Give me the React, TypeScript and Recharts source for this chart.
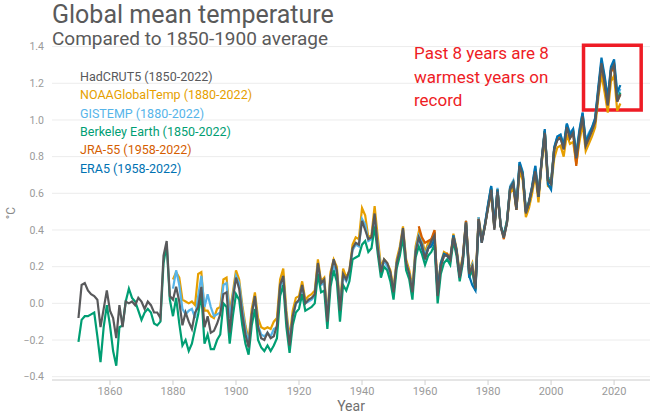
import { LineChart, Line, XAxis, YAxis, CartesianGrid, ReferenceArea } from "recharts";

// annual anomalies vs 1850-1900, °C
const hadcrut5 = [
  -0.08, 0.10, 0.11, 0.07, 0.05, 0.04, 0.02, -0.13, -0.03, 0.07,
  -0.04, -0.08, -0.19, -0.01, -0.13, 0.01, 0.00, 0.01, -0.01, 0.03,
  0.01, -0.03, 0.01, -0.01, -0.05, -0.05, -0.08, 0.26, 0.34, 0.04,
  0.02, 0.09, 0.01, -0.12, -0.05, -0.10, -0.14, -0.05, -0.02, 0.09,
  -0.13, -0.07, -0.16, -0.15, -0.11, -0.06, 0.05, 0.06, -0.16, 0.02,
  0.14, 0.08, -0.06, -0.17, -0.24, -0.06, 0.04, -0.13, -0.19, -0.20,
  -0.16, -0.19, -0.18, -0.12, 0.10, 0.15, -0.08, -0.23, -0.07, 0.00,
  0.02, 0.10, 0.00, 0.02, 0.03, 0.05, 0.22, 0.11, 0.13, -0.10,
  0.15, 0.24, 0.18, -0.04, 0.16, 0.13, 0.18, 0.30, 0.33, 0.32,
  0.45, 0.40, 0.35, 0.36, 0.49, 0.30, 0.17, 0.24, 0.22, 0.17,
  0.06, 0.22, 0.29, 0.41, 0.22, 0.16, 0.06, 0.28, 0.36, 0.32,
  0.24, 0.30, 0.34, 0.37, 0.04, 0.20, 0.26, 0.26, 0.24, 0.36,
  0.28, 0.14, 0.24, 0.44, 0.16, 0.20, 0.08, 0.46, 0.33, 0.42,
  0.52, 0.62, 0.40, 0.61, 0.42, 0.36, 0.44, 0.62, 0.65, 0.51,
  0.75, 0.70, 0.49, 0.55, 0.63, 0.72, 0.58, 0.77, 0.93, 0.67,
  0.65, 0.84, 0.89, 0.90, 0.84, 0.96, 0.90, 0.93, 0.79, 0.92,
  1.02, 0.86, 0.90, 0.94, 0.99, 1.15, 1.31, 1.20, 1.08, 1.27,
  1.30, 1.10, 1.14,
];

const noaaGlobalTemp = [
  0.13, 0.17, 0.14, 0.02, 0.01, 0.00, 0.01, -0.01, 0.16, 0.17,
  -0.04, -0.04, -0.07, -0.08, -0.03, -0.02, 0.13, 0.14, -0.05, 0.06,
  0.18, 0.13, -0.01, -0.12, -0.20, -0.03, 0.06, -0.08, -0.13, -0.14,
  -0.13, -0.14, -0.10, -0.08, 0.13, 0.19, -0.04, -0.19, -0.04, 0.03,
  0.04, 0.12, 0.02, 0.04, 0.05, 0.07, 0.24, 0.12, 0.14, -0.06,
  0.17, 0.24, 0.20, 0.00, 0.19, 0.14, 0.18, 0.32, 0.36, 0.35,
  0.52, 0.48, 0.36, 0.37, 0.53, 0.36, 0.20, 0.24, 0.22, 0.18,
  0.08, 0.24, 0.31, 0.42, 0.24, 0.18, 0.09, 0.31, 0.39, 0.35,
  0.28, 0.33, 0.35, 0.38, 0.08, 0.22, 0.28, 0.27, 0.25, 0.38,
  0.30, 0.17, 0.26, 0.45, 0.18, 0.22, 0.11, 0.47, 0.35, 0.43,
  0.52, 0.60, 0.42, 0.60, 0.42, 0.37, 0.44, 0.60, 0.63, 0.51,
  0.72, 0.67, 0.47, 0.52, 0.60, 0.70, 0.55, 0.76, 0.90, 0.64,
  0.63, 0.79, 0.85, 0.86, 0.80, 0.92, 0.87, 0.88, 0.76, 0.88,
  0.98, 0.83, 0.87, 0.91, 0.96, 1.12, 1.25, 1.15, 1.04, 1.21,
  1.24, 1.05, 1.09,
];

const gistemp = [
  0.08, 0.18, 0.10, -0.03, -0.06, -0.04, -0.03, -0.08, 0.04, 0.15,
  -0.02, 0.05, -0.02, -0.07, -0.06, -0.05, 0.10, 0.11, -0.08, 0.04,
  0.15, 0.11, -0.03, -0.14, -0.22, -0.06, 0.03, -0.12, -0.17, -0.18,
  -0.16, -0.18, -0.14, -0.13, 0.08, 0.14, -0.07, -0.20, -0.08, 0.00,
  0.01, 0.09, 0.00, 0.01, 0.02, 0.04, 0.20, 0.10, 0.11, -0.07,
  0.14, 0.20, 0.17, -0.02, 0.15, 0.12, 0.16, 0.29, 0.32, 0.31,
  0.46, 0.43, 0.34, 0.35, 0.47, 0.32, 0.18, 0.23, 0.20, 0.16,
  0.06, 0.22, 0.29, 0.40, 0.22, 0.16, 0.06, 0.29, 0.37, 0.33,
  0.26, 0.31, 0.32, 0.36, 0.06, 0.20, 0.26, 0.26, 0.23, 0.37,
  0.29, 0.15, 0.25, 0.45, 0.17, 0.21, 0.09, 0.47, 0.34, 0.43,
  0.54, 0.64, 0.42, 0.63, 0.43, 0.37, 0.45, 0.64, 0.67, 0.53,
  0.77, 0.72, 0.51, 0.56, 0.64, 0.75, 0.60, 0.78, 0.94, 0.69,
  0.67, 0.85, 0.91, 0.92, 0.86, 0.98, 0.93, 0.95, 0.82, 0.95,
  1.04, 0.89, 0.93, 0.96, 1.01, 1.17, 1.32, 1.23, 1.11, 1.28,
  1.31, 1.13, 1.17,
];

const berkeleyEarth = [
  -0.21, -0.09, -0.07, -0.07, -0.06, -0.05, -0.18, -0.32, -0.13, -0.01,
  -0.12, -0.26, -0.34, -0.13, -0.12, 0.01, 0.08, 0.03, 0.01, -0.04,
  -0.09, -0.05, -0.03, -0.05, -0.11, -0.12, -0.10, 0.22, 0.32, 0.02,
  -0.07, 0.03, -0.11, -0.23, -0.20, -0.26, -0.22, -0.14, -0.06, 0.05,
  -0.22, -0.17, -0.25, -0.25, -0.20, -0.17, 0.00, -0.02, -0.22, -0.07,
  0.05, 0.02, -0.12, -0.22, -0.28, -0.12, -0.03, -0.20, -0.24, -0.26,
  -0.23, -0.26, -0.23, -0.19, 0.04, 0.10, -0.13, -0.27, -0.12, -0.05,
  -0.03, 0.05, -0.04, -0.03, -0.02, 0.00, 0.16, 0.06, 0.07, -0.14,
  0.09, 0.18, 0.12, -0.10, 0.10, 0.07, 0.12, 0.24, 0.25, 0.26,
  0.32, 0.34, 0.28, 0.30, 0.42, 0.27, 0.14, 0.20, 0.18, 0.12,
  0.02, 0.19, 0.26, 0.36, 0.18, 0.13, 0.02, 0.25, 0.31, 0.27,
  0.21, 0.26, 0.28, 0.32, 0.00, 0.16, 0.22, 0.24, 0.21, 0.34,
  0.26, 0.12, 0.22, 0.43, 0.14, 0.18, 0.07, 0.45, 0.34, 0.42,
  0.53, 0.63, 0.41, 0.62, 0.42, 0.37, 0.45, 0.63, 0.66, 0.52,
  0.76, 0.71, 0.50, 0.55, 0.63, 0.73, 0.59, 0.77, 0.94, 0.68,
  0.66, 0.84, 0.90, 0.91, 0.85, 0.97, 0.91, 0.94, 0.80, 0.93,
  1.03, 0.87, 0.91, 0.95, 1.00, 1.16, 1.31, 1.21, 1.09, 1.27,
  1.30, 1.11, 1.15,
];

const jra55 = [
  0.42, 0.36,
  0.33, 0.34, 0.35, 0.40, 0.07, 0.21, 0.26, 0.27, 0.24, 0.37,
  0.29, 0.15, 0.25, 0.45, 0.17, 0.20, 0.09, 0.46, 0.34, 0.42,
  0.53, 0.62, 0.41, 0.62, 0.42, 0.35, 0.44, 0.63, 0.66, 0.51,
  0.75, 0.70, 0.50, 0.55, 0.63, 0.73, 0.58, 0.78, 0.94, 0.67,
  0.65, 0.84, 0.90, 0.91, 0.84, 0.96, 0.90, 0.93, 0.75, 0.92,
  1.02, 0.86, 0.90, 0.95, 0.99, 1.15, 1.30, 1.20, 1.08, 1.26,
  1.29, 1.10, 1.14,
];

const era5 = [
  0.36, 0.30,
  0.25, 0.30, 0.31, 0.35, 0.06, 0.22, 0.27, 0.26, 0.24, 0.37,
  0.29, 0.14, 0.24, 0.44, 0.15, 0.10, 0.07, 0.45, 0.33, 0.43,
  0.54, 0.64, 0.42, 0.62, 0.42, 0.36, 0.44, 0.63, 0.66, 0.52,
  0.77, 0.71, 0.50, 0.55, 0.64, 0.75, 0.58, 0.78, 0.95, 0.65,
  0.62, 0.85, 0.91, 0.92, 0.86, 0.98, 0.92, 0.95, 0.80, 0.94,
  1.04, 0.88, 0.92, 0.96, 1.01, 1.18, 1.34, 1.24, 1.12, 1.29,
  1.33, 1.15, 1.19,
];

const FIRST_YEAR = 1850;
const LAST_YEAR = 2022;
const xTicks = [1860, 1880, 1900, 1920, 1940, 1960, 1980, 2000, 2020];
const yTicks = [-0.4, -0.2, 0, 0.2, 0.4, 0.6, 0.8, 1.0, 1.2, 1.4];
const noteLines = ["Past 8 years are 8", "warmest years on", "record"];

// legend order
const series = [
  { key: "hadcrut5", label: "HadCRUT5 (1850-2022)", color: "#58595b", start: 1850, values: hadcrut5 },
  { key: "noaa", label: "NOAAGlobalTemp (1880-2022)", color: "#e69f00", start: 1880, values: noaaGlobalTemp },
  { key: "gistemp", label: "GISTEMP (1880-2022)", color: "#56b4e9", start: 1880, values: gistemp },
  { key: "berkeley", label: "Berkeley Earth (1850-2022)", color: "#009e73", start: 1850, values: berkeleyEarth },
  { key: "jra55", label: "JRA-55 (1958-2022)", color: "#d55e00", start: 1958, values: jra55 },
  { key: "era5", label: "ERA5 (1958-2022)", color: "#0072b2", start: 1958, values: era5 },
];
// grey drawn last so it sits on top
const drawOrder = ["noaa", "gistemp", "berkeley", "jra55", "era5", "hadcrut5"];

const data = [];
for (let y = FIRST_YEAR; y <= LAST_YEAR; y++) {
  const row: Record<string, number | null> = { year: y };
  series.forEach((s) => {
    const i = y - s.start;
    row[s.key] = i >= 0 && i < s.values.length ? s.values[i] : null;
  });
  data.push(row);
}

const FONT = "Roboto, 'DejaVu Sans', sans-serif";
const fmtY = (v: number) => (v < 0 ? "\u2212" : "") + Math.abs(v).toFixed(1);

export default function App() {
  return (
    <div style={{ position: "absolute", left: 0, top: 0, width: 650, height: 417, background: "#fff", fontFamily: FONT }}>
      <LineChart
        width={650}
        height={417}
        data={data}
        margin={{ top: 46.6, right: 0, bottom: 0, left: 0 }}
        style={{ fontFamily: FONT }}
      >
        <CartesianGrid vertical={false} stroke="#ececec" strokeWidth={1} />
        <XAxis
          dataKey="year"
          type="number"
          domain={[1841.6, 2031.4]}
          ticks={xTicks}
          interval={0}
          height={37}
          stroke="#d6d6d6"
          tickLine={{ stroke: "#cfcfcf" }}
          tickSize={5}
          tick={{ fill: "#9a9a9a", fontSize: 11 }}
          label={{ value: "Year", position: "insideBottom", offset: 6, fill: "#707070", fontSize: 14 }}
        />
        <YAxis
          type="number"
          domain={[-0.418, 1.4]}
          ticks={yTicks}
          interval={0}
          width={52}
          axisLine={false}
          tickLine={false}
          tickFormatter={fmtY}
          tick={{ fill: "#9a9a9a", fontSize: 10.5 }}
        />
        {drawOrder.map((k) => {
          const s = series.find((x) => x.key === k)!;
          return (
            <Line
              key={k}
              type="linear"
              dataKey={k}
              stroke={s.color}
              strokeWidth={2.2}
              dot={false}
              activeDot={false}
              isAnimationActive={false}
            />
          );
        })}
        <ReferenceArea
          x1={2010.3}
          x2={2028.6}
          y1={1.054}
          y2={1.408}
          ifOverflow="visible"
          fill="none"
          fillOpacity={0}
          stroke="#ee1c25"
          strokeWidth={3.5}
          strokeOpacity={1}
        />
      </LineChart>

      <svg width={650} height={417} style={{ position: "absolute", left: 0, top: 0, pointerEvents: "none" }}>
        <text x={52} y={23} fontSize={25} fill="#5a5a5a" fontFamily={FONT}>
          Global mean temperature
        </text>
        <text x={52} y={45} fontSize={19} fill="#5a5a5a" fontFamily={FONT}>
          Compared to 1850-1900 average
        </text>
        <text
          x={11}
          y={213}
          fontSize={12}
          fill="#888"
          fontFamily={FONT}
          textAnchor="middle"
          dominantBaseline="central"
          transform="rotate(-90 11 213)"
        >
          °C
        </text>
        {series.map((s, i) => (
          <text key={s.key} x={80} y={81 + i * 18.33} fontSize={12.5} fill={s.color} fontFamily={FONT}>
            {s.label}
          </text>
        ))}
        {noteLines.map((t, i) => (
          <text key={t} x={414} y={59 + i * 23.5} fontSize={17} fill="#ee1c25" fontFamily={FONT}>
            {t}
          </text>
        ))}
      </svg>
    </div>
  );
}
